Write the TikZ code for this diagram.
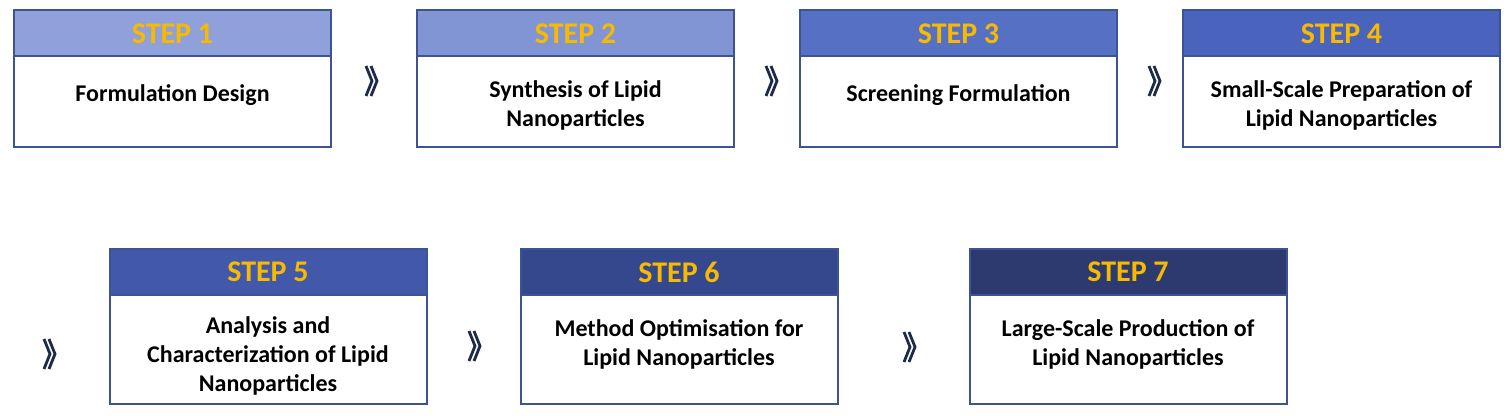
\documentclass[tikz,border=0pt]{standalone}
\usepackage{fontspec}
\setmainfont{Carlito}
\usepackage{xcolor}
\definecolor{lnp-border}{HTML}{3C5394}
\definecolor{lnp-gold}{HTML}{F7BA00}
\definecolor{lnp-chevron}{HTML}{1E2A4A}
\definecolor{lnp-step1}{HTML}{8FA0DA}
\definecolor{lnp-step2}{HTML}{8195D4}
\definecolor{lnp-step3}{HTML}{5670C4}
\definecolor{lnp-step4}{HTML}{4A64BE}
\definecolor{lnp-step5}{HTML}{4158AB}
\definecolor{lnp-step6}{HTML}{35478D}
\definecolor{lnp-step7}{HTML}{2C3A6F}
\usepackage{tikz}
\usetikzlibrary{positioning}

\begin{document}
\begin{tikzpicture}[x=0.5pt, y=-0.5pt,
    header/.style={rectangle, draw=lnp-border, line width=1pt, minimum width=158.5pt, minimum height=23pt,
        inner sep=0pt, outer sep=0pt, text=lnp-gold, font=\bfseries\fontsize{15}{18}\selectfont},
    body/.style={rectangle, draw=lnp-border, line width=1pt, minimum width=158.5pt,
        inner sep=0pt, outer sep=0pt},
    desc/.style={align=center, inner sep=0pt, font=\bfseries\fontsize{12}{14.5}\selectfont},
    chevron/.style={draw=lnp-chevron, line width=1.4pt}]

    % Background
    \useasboundingbox[fill=white] (0, 0) rectangle (1510, 416);

    % Step 1
    \node[header, fill=lnp-step1] (h1) at (172.5, 33.5) {STEP 1};
    \node[body, minimum height=45.5pt, below=0pt of h1] (b1) {};
    \node[desc] (t1) at ([yshift=-19.5pt]b1.north) {Formulation Design};

    % Step 2
    \node[header, fill=lnp-step2] (h2) at (575.5, 33.5) {STEP 2};
    \node[body, minimum height=45.5pt, below=0pt of h2] (b2) {};
    \node[desc] (t2) at ([yshift=-24.5pt]b2.north) {Synthesis of Lipid\\Nanoparticles};

    % Step 3
    \node[header, fill=lnp-step3] (h3) at (958.5, 33.5) {STEP 3};
    \node[body, minimum height=45.5pt, below=0pt of h3] (b3) {};
    \node[desc] (t3) at ([yshift=-19.5pt]b3.north) {Screening Formulation};

    % Step 4
    \node[header, fill=lnp-step4] (h4) at (1341.5, 33.5) {STEP 4};
    \node[body, minimum height=45.5pt, below=0pt of h4] (b4) {};
    \node[desc] (t4) at ([yshift=-24.5pt]b4.north) {Small-Scale Preparation of\\Lipid Nanoparticles};

    % Step 5
    \node[header, fill=lnp-step5] (h5) at (268, 272) {STEP 5};
    \node[body, minimum height=54.5pt, below=0pt of h5] (b5) {};
    \node[desc] (t5) at ([yshift=-30.5pt]b5.north) {Analysis and\\Characterization of Lipid\\Nanoparticles};

    % Step 6
    \node[header, fill=lnp-step6] (h6) at (679, 272) {STEP 6};
    \node[body, minimum height=54.5pt, below=0pt of h6] (b6) {};
    \node[desc] (t6) at ([yshift=-24.5pt]b6.north) {Method Optimisation for\\Lipid Nanoparticles};

    % Step 7
    \node[header, fill=lnp-step7] (h7) at (1128, 272) {STEP 7};
    \node[body, minimum height=54.5pt, below=0pt of h7] (b7) {};
    \node[desc] (t7) at ([yshift=-24.5pt]b7.north) {Large-Scale Production of\\Lipid Nanoparticles};

    % Chevrons
    \coordinate (c1) at (371, 81);
    \coordinate (c2) at (771, 81);
    \coordinate (c3) at (1154, 81);
    \coordinate (c4) at (49, 354);
    \coordinate (c5) at (474, 346);
    \coordinate (c6) at (909, 347);
    \draw[chevron] (c1) ++(-5, -15) -- ++(6, 15) -- ++(-6, 15) (c1) ++(0, -15) -- ++(6, 15) -- ++(-6, 15);
    \draw[chevron] (c2) ++(-5, -15) -- ++(6, 15) -- ++(-6, 15) (c2) ++(0, -15) -- ++(6, 15) -- ++(-6, 15);
    \draw[chevron] (c3) ++(-5, -15) -- ++(6, 15) -- ++(-6, 15) (c3) ++(0, -15) -- ++(6, 15) -- ++(-6, 15);
    \draw[chevron] (c4) ++(-5, -15) -- ++(6, 15) -- ++(-6, 15) (c4) ++(0, -15) -- ++(6, 15) -- ++(-6, 15);
    \draw[chevron] (c5) ++(-5, -15) -- ++(6, 15) -- ++(-6, 15) (c5) ++(0, -15) -- ++(6, 15) -- ++(-6, 15);
    \draw[chevron] (c6) ++(-5, -15) -- ++(6, 15) -- ++(-6, 15) (c6) ++(0, -15) -- ++(6, 15) -- ++(-6, 15);

\end{tikzpicture}
\end{document}
